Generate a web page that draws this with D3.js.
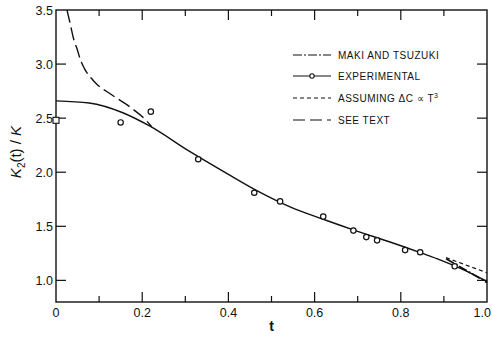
<!DOCTYPE html>
<html>
<head>
<meta charset="utf-8">
<script src="https://cdn.jsdelivr.net/npm/d3@7"></script>
<style>
  html, body { margin: 0; padding: 0; background: #fff; }
  svg { display: block; }
  text { font-family: "Liberation Sans", Arial, sans-serif; fill: #111; }
</style>
</head>
<body>
<svg id="chart" width="492" height="339"></svg>
<script>
// Reduced field K2(t)/K versus reduced temperature t
const expT   = [0.15, 0.22, 0.33, 0.46, 0.52, 0.62, 0.69, 0.72, 0.745, 0.81, 0.845, 0.925];
const expK   = [2.46, 2.56, 2.12, 1.81, 1.73, 1.59, 1.46, 1.40, 1.37, 1.28, 1.26, 1.13];

const fitT   = [0, 0.077, 0.155, 0.216, 0.311, 0.4, 0.466, 0.543, 0.62, 0.698, 0.775, 0.85, 0.891, 0.95, 1.0];
const fitK   = [2.66, 2.64, 2.55, 2.43, 2.19, 1.98, 1.83, 1.68, 1.565, 1.456, 1.355, 1.25, 1.19, 1.09, 0.99];

const seeT   = [0.0255, 0.0325, 0.0425, 0.048, 0.058, 0.0657, 0.085, 0.093, 0.124, 0.135, 0.166, 0.176, 0.209, 0.222];
const seeK   = [3.5, 3.38, 3.21, 3.15, 3.025, 2.96, 2.855, 2.82, 2.73, 2.70, 2.62, 2.59, 2.48, 2.42];

const cubeT  = [0.905, 1.0];
const cubeK  = [1.21, 1.07];

const makiT  = [0.905, 1.0];
const makiK  = [1.20, 0.98];

const squareT = [0];
const squareK = [2.48];

const xTicks = [0, 0.2, 0.4, 0.6, 0.8, 1.0];
const xTickLabels = ["0", "0.2", "0.4", "0.6", "0.8", "1.0"];
const xMinor = [0.1, 0.3, 0.5, 0.7, 0.9];
const yTicks = [1.0, 1.5, 2.0, 2.5, 3.0, 3.5];
const yTickLabels = ["1.0", "1.5", "2.0", "2.5", "3.0", "3.5"];

const legendLabels = ["MAKI AND TSUZUKI", "EXPERIMENTAL", "ASSUMING \u0394C \u221D T", "SEE TEXT"];

const svg = d3.select("#chart");
const L = 56, R = 487, T = 10, B = 302;
const x = d3.scaleLinear().domain([0, 1]).range([L, R]);
const y = d3.scaleLinear().domain([0.8, 3.5]).range([B, T]);

const ink = "#111";

// frame
svg.append("rect").attr("x", L).attr("y", T).attr("width", R - L).attr("height", B - T)
  .attr("fill", "none").attr("stroke", ink).attr("stroke-width", 1.4);

// ticks on all four sides, pointing inward
const g = svg.append("g").attr("stroke", ink).attr("stroke-width", 1.2);
xTicks.concat(xMinor).forEach(v => {
  const len = xMinor.includes(v) ? 6 : 10;
  if (v > 0 && v < 1) {
    g.append("line").attr("x1", x(v)).attr("x2", x(v)).attr("y1", B).attr("y2", B - len);
    g.append("line").attr("x1", x(v)).attr("x2", x(v)).attr("y1", T).attr("y2", T + len);
  }
});
yTicks.forEach(v => {
  if (v < 3.5) {
    g.append("line").attr("x1", L).attr("x2", L + 10).attr("y1", y(v)).attr("y2", y(v));
    g.append("line").attr("x1", R).attr("x2", R - 10).attr("y1", y(v)).attr("y2", y(v));
  }
});

// tick labels (the last one is pulled inside the right edge)
xTicks.forEach((v, i) => {
  const last = i === xTicks.length - 1;
  svg.append("text").attr("x", last ? 491 : x(v)).attr("y", B + 15)
    .attr("text-anchor", last ? "end" : "middle")
    .attr("font-size", 12.5).text(xTickLabels[i]);
});
yTicks.forEach((v, i) => {
  svg.append("text").attr("x", L - 3).attr("y", y(v) + 4.5).attr("text-anchor", "end")
    .attr("font-size", 12.5).text(yTickLabels[i]);
});

// axis titles
svg.append("text").attr("x", x(0.5)).attr("y", 331).attr("text-anchor", "middle")
  .attr("font-size", 14).attr("font-weight", "bold").text("t");
const yl = svg.append("text").attr("transform", "translate(21,152) rotate(-90)")
  .attr("text-anchor", "middle").attr("font-size", 15);
yl.append("tspan").attr("font-style", "italic").text("K");
yl.append("tspan").attr("font-size", 10).attr("dy", 4).text("2");
yl.append("tspan").attr("dy", -4).text("(t) / ");
yl.append("tspan").attr("font-style", "italic").text("K");

// curves
const line = d3.line().x(d => x(d[0])).y(d => y(d[1])).curve(d3.curveMonotoneX);
const plot = svg.append("g").attr("fill", "none").attr("stroke", ink);

plot.append("path").datum(d3.zip(fitT, fitK)).attr("d", line).attr("stroke-width", 1.4);
plot.append("path").datum(d3.zip(seeT, seeK)).attr("d", line).attr("stroke-width", 1.4)
  .attr("stroke-dasharray", "13,5");
plot.append("path").datum(d3.zip(cubeT, cubeK)).attr("d", line).attr("stroke-width", 1.2)
  .attr("stroke-dasharray", "4,3");
plot.append("path").datum(d3.zip(makiT, makiK)).attr("d", line).attr("stroke-width", 1.8)
  .attr("stroke-dasharray", "9,2,2,2");

// experimental points
svg.append("g").selectAll("circle").data(d3.zip(expT, expK)).join("circle")
  .attr("cx", d => x(d[0])).attr("cy", d => y(d[1])).attr("r", 2.7)
  .attr("fill", "#fff").attr("stroke", ink).attr("stroke-width", 1.2);

// square marker at t = 0
svg.append("g").selectAll("rect").data(d3.zip(squareT, squareK)).join("rect")
  .attr("x", d => x(d[0]) - 3).attr("y", d => y(d[1]) - 3).attr("width", 6).attr("height", 6)
  .attr("fill", "#fff").attr("stroke", ink).attr("stroke-width", 1.1);

// legend
const lg = svg.append("g");
const rows = [55, 76, 98, 120];
const lx0 = 293, lx1 = 331;
const styles = ["9,2,2,2", null, "4,3", "12,5"];
legendLabels.forEach((lab, i) => {
  lg.append("line").attr("x1", lx0).attr("x2", lx1).attr("y1", rows[i]).attr("y2", rows[i])
    .attr("stroke", ink).attr("stroke-width", 1.1)
    .attr("stroke-dasharray", styles[i]);
  if (i === 1) {
    lg.append("circle").attr("cx", (lx0 + lx1) / 2).attr("cy", rows[i]).attr("r", 2.2)
      .attr("fill", "#fff").attr("stroke", ink).attr("stroke-width", 1.1);
  }
  const t = lg.append("text").attr("x", 338).attr("y", rows[i] + 4)
    .attr("font-size", 10).attr("letter-spacing", 0.5).text(lab);
  if (i === 2) t.append("tspan").attr("dy", -4).attr("font-size", 7).text("3");
});
</script>
</body>
</html>
